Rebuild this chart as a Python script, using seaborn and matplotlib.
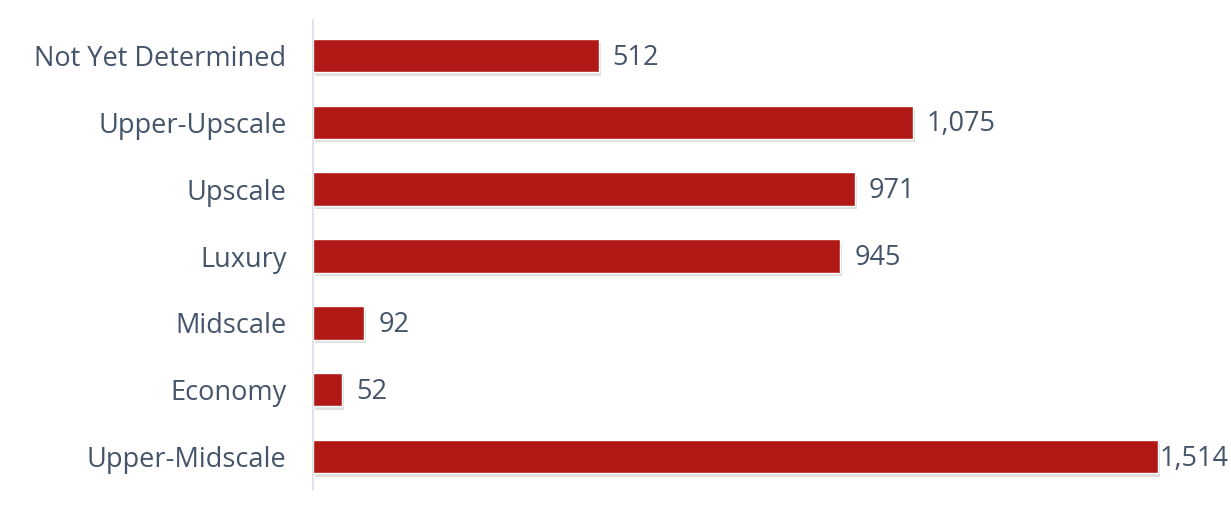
import matplotlib
matplotlib.use("Agg")
import matplotlib.pyplot as plt
import matplotlib.patheffects as pe
import seaborn as sns
import pandas as pd

categories = ["Not Yet Determined", "Upper-Upscale", "Upscale", "Luxury",
              "Midscale", "Economy", "Upper-Midscale"]
values = [512, 1075, 971, 945, 92, 52, 1514]

df = pd.DataFrame({"category": categories, "value": values})

sns.set_style("white")
plt.rcParams['font.family'] = ['Open Sans', 'DejaVu Sans']

text_color = "#44546A"
bar_color = "#B01915"
FS = 19.5

W, H = 1231, 514
fig = plt.figure(figsize=(W / 100, H / 100), dpi=100)
ax = fig.add_axes([313 / W, 24 / H, (W - 313) / W, 470 / H])

sns.barplot(data=df, x="value", y="category", color=bar_color, width=0.5,
            saturation=1, ax=ax, order=categories)

for p in ax.patches:
    p.set_path_effects([pe.SimplePatchShadow(offset=(1.5, -2.5), shadow_rgbFace="#000000", alpha=0.13), pe.Normal()])

ax.set_xlim(0, 1645)
ax.set_ylim(6.5, -0.53)
ax.set_xlabel("")
ax.set_ylabel("")
ax.set_xticks([])
ax.tick_params(axis="y", length=0, pad=19, labelsize=FS, labelcolor=text_color)
for s in ["top", "right", "bottom"]:
    ax.spines[s].set_visible(False)
ax.spines["left"].set_color("#D9DEE6")
ax.spines["left"].set_linewidth(1.2)

fig.canvas.draw()
renderer = fig.canvas.get_renderer()
limit_px = 1229
for i, v in enumerate(values):
    t = ax.annotate(f"{v:,}", xy=(v, i), xytext=(10, -1.5), textcoords="offset points",
                    va="center", ha="left", fontsize=FS, color=text_color)
    bb = t.get_window_extent(renderer)
    if bb.x1 > limit_px:
        shift = max(10 - (bb.x1 - limit_px) * 72 / 100, 1.5)
        t.set_position((shift, -1.5))

fig.savefig("out.png", dpi=100)
